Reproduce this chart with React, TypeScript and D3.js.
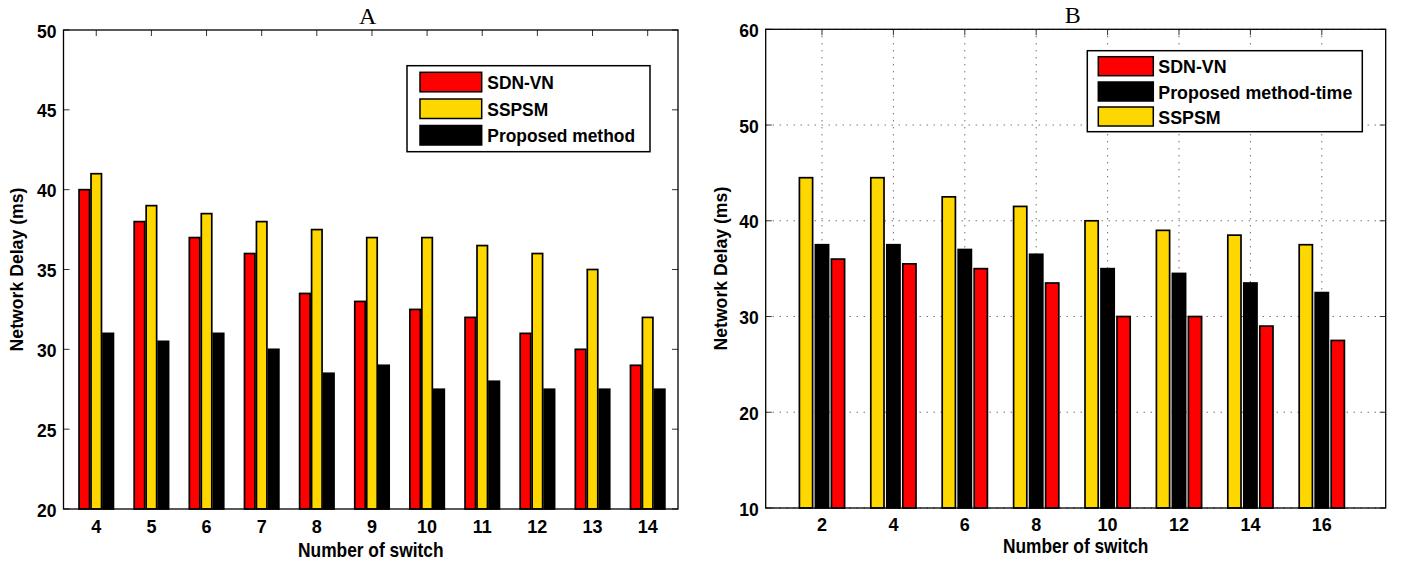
import React from 'react';
import * as d3 from 'd3';

// ---------- data ----------
const categoriesA = [4, 5, 6, 7, 8, 9, 10, 11, 12, 13, 14];
const sdnVnA = [40, 38, 37, 36, 33.5, 33, 32.5, 32, 31, 30, 29];
const sspsmA = [41, 39, 38.5, 38, 37.5, 37, 37, 36.5, 36, 35, 32];
const proposedA = [31, 30.5, 31, 30, 28.5, 29, 27.5, 28, 27.5, 27.5, 27.5];
const yTicksA = [20, 25, 30, 35, 40, 45, 50];

const categoriesB = [2, 4, 6, 8, 10, 12, 14, 16];
const sspsmB = [44.5, 44.5, 42.5, 41.5, 40, 39, 38.5, 37.5];
const proposedTimeB = [37.5, 37.5, 37, 36.5, 35, 34.5, 33.5, 32.5];
const sdnVnB = [36, 35.5, 35, 33.5, 30, 30, 29, 27.5];
const yTicksB = [10, 20, 30, 40, 50, 60];

const RED = '#ff0000';
const GOLD = '#ffd700';
const BLACK = '#000000';
const SANS = '"Liberation Sans", Arial, Helvetica, sans-serif';
const SERIF = '"Liberation Serif", "Times New Roman", serif';

type Series = { name: string; values: number[]; color: string };

type PanelProps = {
  title: string;
  left: number; right: number; top: number; bottom: number;
  xDomain: [number, number];
  yDomain: [number, number];
  categories: number[];
  yTicks: number[];
  bars: Series[];
  legend: Series[];
  step: number;
  barWidth: number;
  grid: boolean;
  legendBox: { x: number; y: number; w: number; h: number; swX: number; swW: number; swH: number; rowTops: number[]; textX: number; fontSize: number; squeeze: number };
  xTickFont: number;
  xTickBaseline: number;
  xLabelBaseline: number;
  yLabelX: number;
};

function Panel(p: PanelProps) {
  const x = d3.scaleLinear().domain(p.xDomain).range([p.left, p.right]);
  const y = d3.scaleLinear().domain(p.yDomain).range([p.bottom, p.top]);
  const n = p.bars.length;
  const cx = (p.left + p.right) / 2;
  const cy = (p.top + p.bottom) / 2;
  const tickLen = 6;
  const lb = p.legendBox;
  return (
    <g>
      <text x={cx - 3} y={p.top - 6} textAnchor="middle" fontFamily={SERIF} fontSize={24}>{p.title}</text>
      {p.grid && (
        <g stroke="#333" strokeWidth={1} strokeDasharray="1,6">
          {p.categories.map((c) => (
            <line key={'gx' + c} x1={x(c)} x2={x(c)} y1={p.top} y2={p.bottom} />
          ))}
          {p.yTicks.map((t) => (
            <line key={'gy' + t} x1={p.left} x2={p.right} y1={y(t)} y2={y(t)} />
          ))}
        </g>
      )}
      <g stroke="#333" strokeWidth={1}>
        {p.categories.map((c) => (
          <g key={'tx' + c}>
            <line x1={x(c)} x2={x(c)} y1={p.top} y2={p.top + tickLen} />
            <line x1={x(c)} x2={x(c)} y1={p.bottom} y2={p.bottom - tickLen} />
          </g>
        ))}
        {p.yTicks.map((t) => (
          <g key={'ty' + t}>
            <line x1={p.left} x2={p.left + tickLen} y1={y(t)} y2={y(t)} />
            <line x1={p.right} x2={p.right - tickLen} y1={y(t)} y2={y(t)} />
          </g>
        ))}
      </g>
      {p.bars.map((s, i) => (
        <g key={s.name}>
          {p.categories.map((c, j) => {
            const xc = c + (i - (n - 1) / 2) * p.step;
            const x0 = x(xc - p.barWidth / 2);
            const x1 = x(xc + p.barWidth / 2);
            return (
              <rect key={c} x={x0} y={y(s.values[j])} width={x1 - x0} height={y(p.yDomain[0]) - y(s.values[j])}
                fill={s.color} stroke="#000" strokeWidth={1.7} />
            );
          })}
        </g>
      ))}
      <rect x={p.left} y={p.top} width={p.right - p.left} height={p.bottom - p.top} fill="none" stroke="#000" strokeWidth={1.3} />
      <g fontFamily={SANS} fontWeight="bold">
        {p.categories.map((c) => (
          <text key={'lx' + c} x={x(c)} y={p.xTickBaseline} textAnchor="middle" fontSize={p.xTickFont}>{c}</text>
        ))}
        {p.yTicks.map((t) => (
          <text key={'ly' + t} x={p.left - 7} y={y(t) + 7.5} textAnchor="end" fontSize={17.5}>{t}</text>
        ))}
      </g>
      <text transform={`translate(${cx},${p.xLabelBaseline}) scale(0.89,1)`} textAnchor="middle"
        fontFamily={SANS} fontWeight="bold" fontSize={19.5}>Number of switch</text>
      <text transform={`translate(${p.yLabelX},${cy}) rotate(-90) scale(0.93,1)`} textAnchor="middle"
        fontFamily={SANS} fontWeight="bold" fontSize={19}>Network Delay (ms)</text>
      <g>
        <rect x={lb.x} y={lb.y} width={lb.w} height={lb.h} fill="#fff" stroke="#000" strokeWidth={1.5} />
        {p.legend.map((s, i) => (
          <g key={'lg' + s.name}>
            <rect x={lb.swX} y={lb.rowTops[i]} width={lb.swW} height={lb.swH} fill={s.color} stroke="#000" strokeWidth={1.5} />
            <text transform={`translate(${lb.textX},${lb.rowTops[i] + lb.swH / 2 + 7}) scale(${lb.squeeze},1)`}
              fontFamily={SANS} fontWeight="bold" fontSize={lb.fontSize}>{s.name}</text>
          </g>
        ))}
      </g>
    </g>
  );
}

export default function App() {
  const sdnA: Series = { name: 'SDN-VN', values: sdnVnA, color: RED };
  const ssA: Series = { name: 'SSPSM', values: sspsmA, color: GOLD };
  const prA: Series = { name: 'Proposed method', values: proposedA, color: BLACK };
  const ssB: Series = { name: 'SSPSM', values: sspsmB, color: GOLD };
  const prB: Series = { name: 'Proposed method-time', values: proposedTimeB, color: BLACK };
  const sdnB: Series = { name: 'SDN-VN', values: sdnVnB, color: RED };
  return (
    <svg width={1405} height={564} style={{ position: 'absolute', left: 0, top: 0, background: '#fff' }}>
      <rect x={0} y={0} width={1405} height={564} fill="#fff" />
      <Panel
        title="A"
        left={63.5} right={678} top={30} bottom={509}
        xDomain={[3.406, 14.55]} yDomain={[20, 50]}
        categories={categoriesA} yTicks={yTicksA}
        bars={[sdnA, ssA, prA]} legend={[sdnA, ssA, prA]}
        step={0.217} barWidth={0.19} grid={false}
        legendBox={{ x: 407, y: 65.7, w: 243, h: 86, swX: 420, swW: 61.7, swH: 19.5, rowTops: [72.3, 99, 125.5], textX: 487.3, fontSize: 18.5, squeeze: 0.94 }}
        xTickFont={18} xTickBaseline={533} xLabelBaseline={556.5} yLabelX={23}
      />
      <Panel
        title="B"
        left={765.7} right={1385.7} top={29.3} bottom={508}
        xDomain={[0.423, 17.79]} yDomain={[10, 60]}
        categories={categoriesB} yTicks={yTicksB}
        bars={[ssB, prB, sdnB]} legend={[sdnB, prB, ssB]}
        step={0.448} barWidth={0.37} grid={true}
        legendBox={{ x: 1087.3, y: 50.7, w: 275, h: 81, swX: 1098.3, swW: 55, swH: 19, rowTops: [56.7, 82, 107], textX: 1158.3, fontSize: 18, squeeze: 0.99 }}
        xTickFont={18} xTickBaseline={531} xLabelBaseline={553} yLabelX={727}
      />
    </svg>
  );
}
